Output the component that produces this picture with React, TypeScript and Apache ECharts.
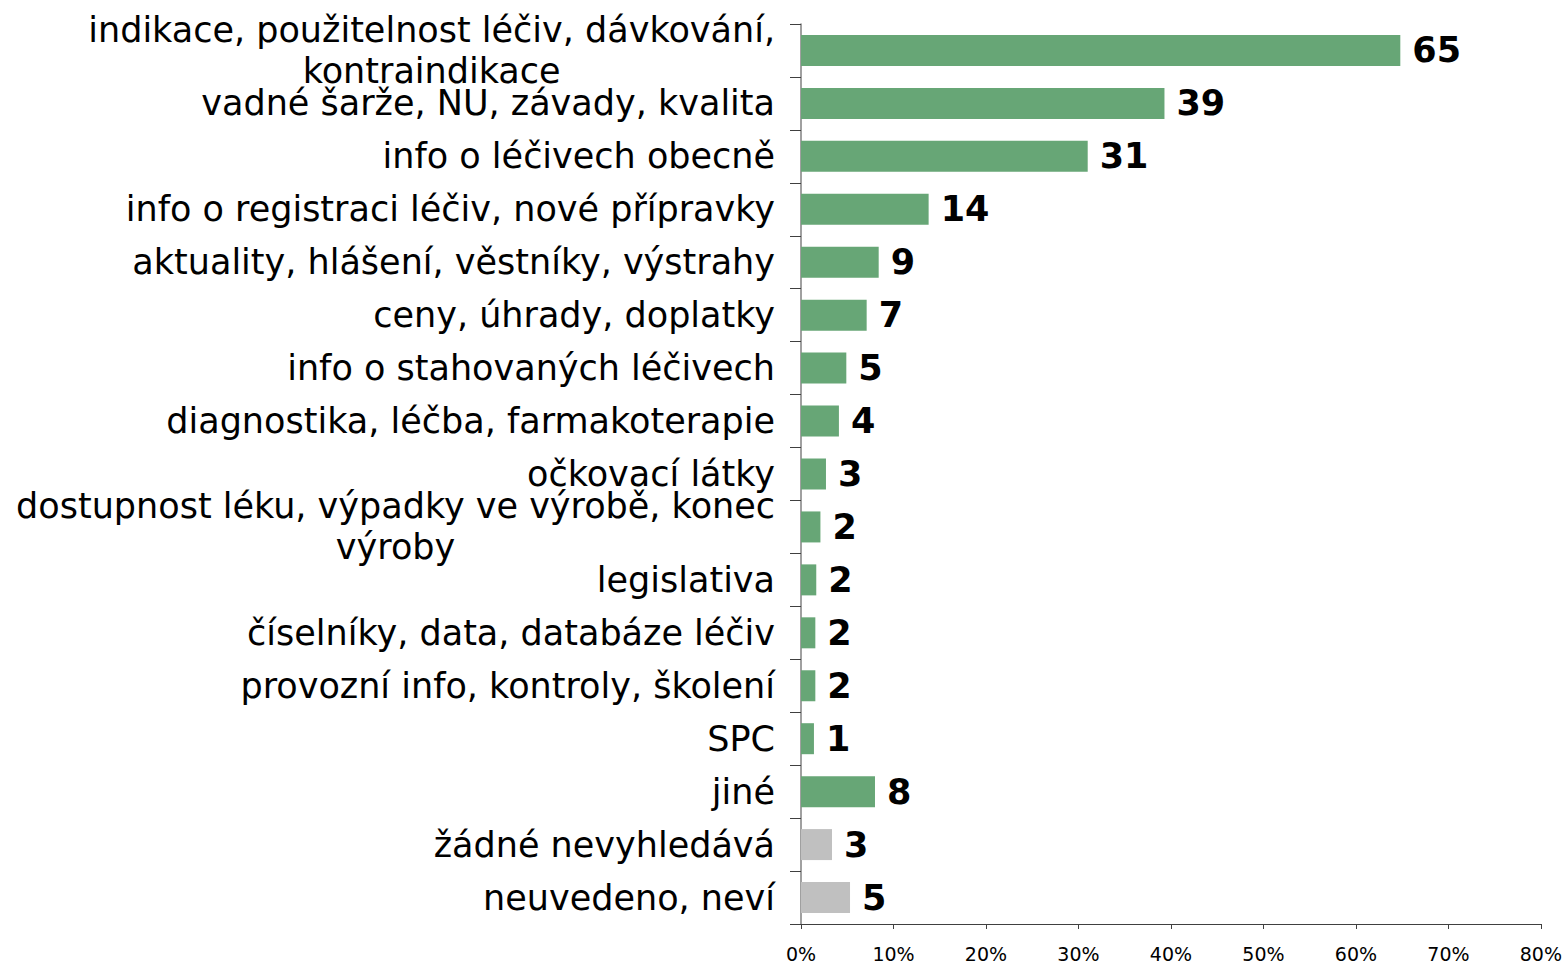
import React, { useEffect, useRef } from "react";
import * as echarts from "echarts";

const categories = [
  "indikace, použitelnost léčiv, dávkování,\nkontraindikace",
  "vadné šarže, NU, závady, kvalita",
  "info o léčivech obecně",
  "info o registraci léčiv, nové přípravky",
  "aktuality, hlášení, věstníky, výstrahy",
  "ceny, úhrady, doplatky",
  "info o stahovaných léčivech",
  "diagnostika, léčba, farmakoterapie",
  "očkovací látky",
  "dostupnost léku, výpadky ve výrobě, konec\nvýroby",
  "legislativa",
  "číselníky, data, databáze léčiv",
  "provozní info, kontroly, školení",
  "SPC",
  "jiné",
  "žádné nevyhledává",
  "neuvedeno, neví",
];

// bar lengths (percent of respondents)
const percentValues = [64.8, 39.3, 31.0, 13.8, 8.4, 7.1, 4.9, 4.1, 2.7, 2.1, 1.65, 1.55, 1.55, 1.4, 8.0, 3.35, 5.3];
// labels shown at the bar ends
const labelValues = [65, 39, 31, 14, 9, 7, 5, 4, 3, 2, 2, 2, 2, 1, 8, 3, 5];
// which bars are grey (no answer categories)
const greyFlags = [false, false, false, false, false, false, false, false, false, false, false, false, false, false, false, true, true];

const xTicks = [0, 10, 20, 30, 40, 50, 60, 70, 80];

const GREEN = "#67A676";
const GREY = "#C0C0C0";
const FONT = "DejaVu Sans";

export default function App() {
  const ref = useRef<HTMLDivElement>(null);
  useEffect(() => {
    if (!ref.current) return;
    const chart = echarts.init(ref.current, null, { renderer: "svg" });
    chart.setOption({
      animation: false,
      grid: { left: 801, right: 23, top: 24, bottom: 39, containLabel: false },
      xAxis: {
        type: "value",
        min: xTicks[0],
        max: xTicks[xTicks.length - 1],
        interval: 10,
        splitLine: { show: false },
        axisLine: { show: true, lineStyle: { color: "#404040", width: 1 } },
        axisTick: { show: true, length: 5, lineStyle: { color: "#404040" } },
        axisLabel: {
          formatter: (v: number) => `${v}%`,
          fontFamily: FONT,
          fontSize: 19,
          lineHeight: 19,
          color: "#000",
          margin: 20,
        },
      },
      yAxis: {
        type: "category",
        data: categories,
        inverse: true,
        axisLine: { show: true, lineStyle: { color: "#808080", width: 1.5 } },
        axisTick: { show: true, length: 11, lineStyle: { color: "#404040" } },
        axisLabel: {
          interval: 0,
          hideOverlap: false,
          margin: 26,
          align: "right",
          fontFamily: FONT,
          fontSize: 35,
          color: "#000",
          formatter: (v: string) => v.split("\n").map((s) => `{c|${s}}`).join("\n"),
          rich: {
            c: { align: "center", fontFamily: FONT, fontSize: 35, lineHeight: 41, color: "#000" },
          },
        },
      },
      series: [
        {
          type: "bar",
          barWidth: 31,
          data: percentValues.map((v, i) => ({
            value: v,
            itemStyle: { color: greyFlags[i] ? GREY : GREEN },
          })),
          label: {
            show: true,
            position: "right",
            distance: 12,
            fontFamily: FONT,
            fontWeight: "bold",
            fontSize: 35,
            color: "#000",
            formatter: (p: any) => `${labelValues[p.dataIndex]}`,
          },
        },
      ],
    });
    return () => chart.dispose();
  }, []);
  return <div ref={ref} style={{ width: 1565, height: 963, position: "absolute", left: 0, top: 0 }} />;
}
